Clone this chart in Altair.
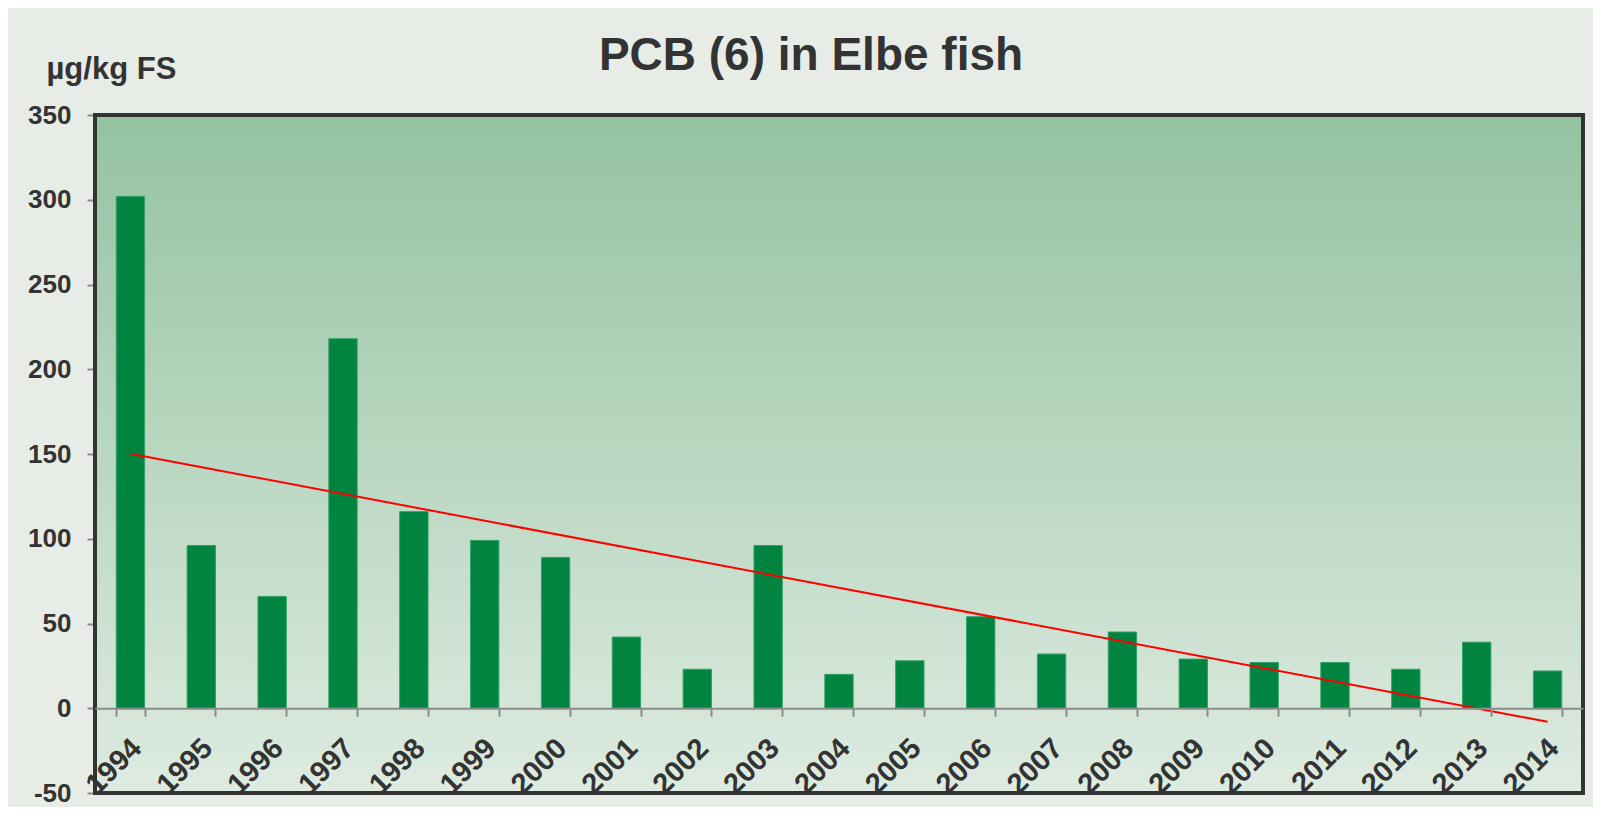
import altair as alt
import pandas as pd

years = list(range(1994, 2015))
values = [302, 96, 66, 218, 116, 99, 89, 42, 23, 96, 20, 28, 54, 32, 45, 29, 27, 27, 23, 39, 22]
title_text = "PCB (6) in Elbe fish"
unit_label = "µg/kg FS"
y_ticks = [-50, 0, 50, 100, 150, 200, 250, 300, 350]

df = pd.DataFrame({"year": years, "value": values})

W, H = 1488, 678
FONT = "Liberation Sans"
TXT = "#333333"
GRAY = "#8c8c8c"

xscale = alt.Scale(paddingInner=0.6, paddingOuter=0.3)
yscale = alt.Scale(domain=[-50, 350], nice=False, zero=False)

x_enc = alt.X(
    "year:O",
    scale=xscale,
    axis=alt.Axis(
        title=None,
        offset=-84.75,
        zindex=1,
        domainColor=GRAY,
        domainWidth=2,
        tickColor=GRAY,
        tickWidth=2,
        tickSize=8,
        tickBand="extent",
        labelAngle=-45,
        labelAlign="right",
        labelBaseline="top",
        labelFont=FONT,
        labelFontSize=29,
        labelFontWeight="bold",
        labelColor=TXT,
        labelPadding=17,
        labelOffset=-4,
        labelOverlap=False,
        grid=False,
    ),
)
y_enc = alt.Y(
    "value:Q",
    scale=yscale,
    axis=alt.Axis(
        values=y_ticks,
        labelExpr="'' + datum.value",
        domainColor=GRAY,
        domainWidth=2,
        tickColor=GRAY,
        tickWidth=2,
        tickSize=8,
        labelFont=FONT,
        labelFontSize=26,
        labelFontWeight="bold",
        labelColor=TXT,
        labelPadding=16,
        grid=False,
        title=unit_label,
        titleAngle=0,
        titleX=-49,
        titleY=-37,
        titleAlign="left",
        titleBaseline="alphabetic",
        titleFont=FONT,
        titleFontSize=31,
        titleFontWeight="bold",
        titleColor=TXT,
    ),
)

gradient = alt.LinearGradient(
    gradient="linear",
    stops=[
        alt.GradientStop(color="#94C3A0", offset=0),
        alt.GradientStop(color="#DEEBE1", offset=1),
    ],
    x1=0, x2=0, y1=0, y2=1,
)

bg = alt.Chart(pd.DataFrame({"a": [0]})).mark_rect(
    color=gradient
).encode(x=alt.value(0), x2=alt.value(W), y=alt.value(0), y2=alt.value(H))

frame = alt.Chart(pd.DataFrame({"a": [0]})).mark_rect(
    fill=None, stroke="#333333", strokeWidth=4
).encode(x=alt.value(0), x2=alt.value(W), y=alt.value(0), y2=alt.value(H))

bars = alt.Chart(df).mark_bar(color="#00843F", stroke="#35A066", strokeWidth=1).encode(
    x=x_enc, y=y_enc, y2=alt.datum(0)
)

trend = alt.Chart(df).transform_regression("year", "value").mark_line(
    color="#FF0000", strokeWidth=2
).encode(x=x_enc, y=y_enc)

title = alt.Chart(pd.DataFrame({"t": [title_text]})).mark_text(
    font=FONT, fontSize=46, fontWeight="bold", color=TXT, align="center", baseline="alphabetic"
).encode(text="t:N", x=alt.value(716), y=alt.value(-45))

chart = alt.layer(bg, bars, trend, title).properties(
    width=W,
    height=H,
    autosize=alt.AutoSizeParams(type="none"),
    padding={"left": 87, "top": 107, "right": 10, "bottom": 14},
    background="#E8ECE7",
).configure_view(stroke="#333333", strokeWidth=4)

chart = alt.layer(bg, bars, trend, title, frame).properties(
    width=W,
    height=H,
    autosize=alt.AutoSizeParams(type="none"),
    padding={"left": 87, "top": 107, "right": 10, "bottom": 14},
    background="#E8ECE7",
).configure_view(stroke=None)

chart.save("out.html", embed_options={"renderer": "svg", "actions": False})
